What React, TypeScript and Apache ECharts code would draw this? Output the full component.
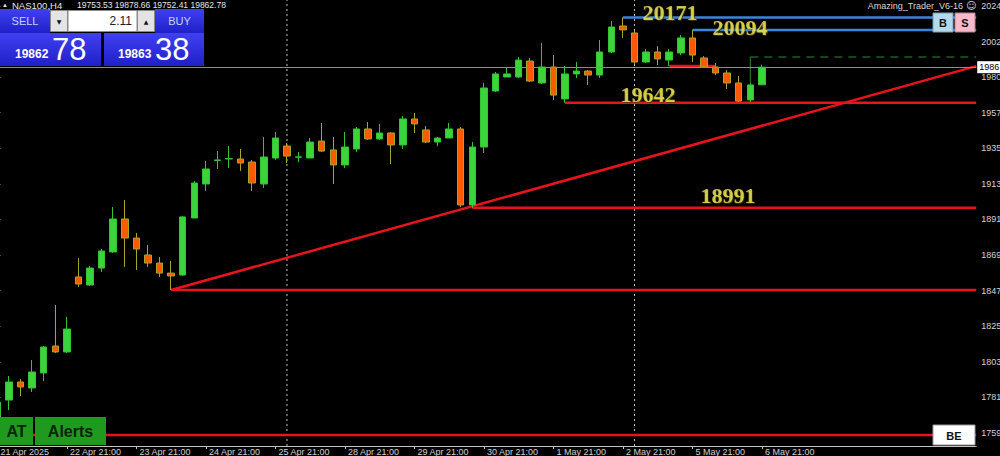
import React, { useEffect, useRef } from "react";
import * as echarts from "echarts";

// ---------- data ----------
const symbolName = "NAS100,H4";
const indicatorName = "Amazing_Trader_V6-16";
const firstLabel = "21 Apr 2025";
const dayLabels = ["21 Apr", "22 Apr", "23 Apr", "24 Apr", "25 Apr", "28 Apr", "29 Apr", "30 Apr", "1 May", "2 May", "5 May", "6 May"];
const barHours = ["01:00", "05:00", "09:00", "13:00", "17:00", "21:00"];
const weekStartDays = ["28 Apr", "5 May"];
const futureSlots = 18;

const opens = [17695, 17800, 17912, 17875, 17968, 18135, 18098, 18563, 18513, 18618, 18718, 18922, 18804, 18699, 18649, 18587, 18575, 18928, 19139, 19285, 19294, 19294, 19275, 19139, 19300, 19374, 19305, 19300, 19405, 19350, 19257, 19356, 19480, 19418, 19455, 19381, 19542, 19474, 19399, 19424, 19480, 19009, 19368, 19715, 19802, 19802, 19901, 19765, 19864, 19666, 19821, 19839, 19814, 19957, 20118, 20075, 19895, 19957, 19907, 19951, 20044, 19920, 19864, 19827, 19765, 19660, 19753.53];
const closes = [17788, 17912, 17881, 17974, 18129, 18098, 18240, 18519, 18618, 18724, 18922, 18804, 18736, 18649, 18587, 18569, 18935, 19145, 19232, 19288, 19296, 19269, 19145, 19306, 19424, 19312, 19307, 19399, 19343, 19257, 19368, 19480, 19418, 19455, 19381, 19542, 19511, 19399, 19424, 19480, 19009, 19368, 19734, 19821, 19821, 19907, 19777, 19864, 19690, 19821, 19839, 19814, 19957, 20112, 20094, 19895, 19957, 19914, 19957, 20044, 19938, 19864, 19827, 19765, 19653, 19753, 19862.78];
const lows = [17676, 17738, 17825, 17850, 17918, 18092, 18092, 18501, 18507, 18594, 18712, 18625, 18606, 18625, 18563, 18482, 18569, 18928, 19096, 19232, 19238, 19220, 19096, 19114, 19288, 19269, 19275, 19300, 19338, 19139, 19238, 19338, 19412, 19412, 19263, 19356, 19455, 19393, 19374, 19424, 18996, 18991, 19331, 19709, 19802, 19796, 19771, 19759, 19659, 19642, 19796, 19752, 19796, 19951, 20044, 19883, 19889, 19876, 19870, 19938, 19895, 19858, 19814, 19728, 19647, 19647, 19752.41];
const highs = [17810, 17949, 17931, 18048, 18135, 18389, 18315, 18680, 18631, 18736, 18996, 19040, 18835, 18761, 18687, 18662, 18941, 19158, 19282, 19343, 19375, 19356, 19288, 19430, 19461, 19393, 19337, 19424, 19517, 19430, 19461, 19492, 19523, 19511, 19461, 19560, 19579, 19498, 19430, 19517, 19492, 19399, 19765, 19833, 19858, 19926, 19920, 20013, 19938, 19870, 19895, 19845, 20031, 20149, 20171, 20087, 19976, 19994, 19976, 20062, 20094, 19932, 19889, 19845, 19808, 19765, 19878.66];

// price-axis ticks and the (edge-clipped) labels the reference shows for them
const yTicks = [17596, 17816.5, 18037, 18257.5, 18478, 18698.5, 18919, 19139.5, 19360, 19580.5, 19801, 20021.5, 20242];
const yTickLabels = ["1759", "1781", "1803", "1825", "1847", "1869", "1891", "1913", "1935", "1957", "1980", "2002", "2024"];
const priceTagLabel = "1986";
const yMin = 17515.3;
const yMax = 20279.2;

// support levels (red): value, starting bar
const supportValues = [18482, 18991, 19642];
const supportStartBars = [15, 41, 49];
// resistance levels (blue)
const resistanceValues = [20171, 20094];
const resistanceStartBars = [54, 60];
// short red level
const shortLevelValue = 19870;
const shortLevelBars = [58, 62];
// break-even line
const breakEvenValue = 17583;
// trend line anchors [bar, price]
const trendAnchorBars = [15, 41];
const trendAnchorPrices = [18482, 19001];
// previous high dashed (green)
const prevHighValue = 19926;
const prevHighBar = 65;
const prevHighFrom = 19765;

const bid = 19862.78;
const ask = 19863.38;
const lotSize = 2.11;

// ---------- component ----------
export default function App() {
  const ref = useRef<HTMLDivElement>(null);

  useEffect(() => {
    document.body.style.margin = "0";
    document.body.style.background = "#000";
    const el = ref.current!;
    const chart = echarts.init(el, null, { renderer: "svg" });

    const N = opens.length;
    const cats: string[] = [`${dayLabels[0]} 21:00`];
    for (let d = 1; d < dayLabels.length; d++) {
      for (const h of barHours) cats.push(`${dayLabels[d]} ${h}`);
    }
    for (let k = 1; k <= futureSlots; k++) cats.push(`+${k}`);
    const total = cats.length;
    const rightEdge = total - 0.5;

    const separators = weekStartDays.map((d) => cats.indexOf(`${d} 01:00`));

    const font = '"Liberation Sans", Arial, sans-serif';
    const serif = '"Liberation Serif", "Times New Roman", serif';
    const red = "#e8141c";
    const blue = "#3a86dc";
    const yellow = "#f3eb52";

    const seg = (pts: number[][], color: string, width: number, type: any = "solid", z = 3) => ({
      type: "line",
      xAxisIndex: 1,
      yAxisIndex: 0,
      data: pts,
      showSymbol: false,
      symbol: "none",
      silent: true,
      z,
      lineStyle: { color, width, type },
      emphasis: { disabled: true },
    });

    const slope = (trendAnchorPrices[1] - trendAnchorPrices[0]) / (trendAnchorBars[1] - trendAnchorBars[0]);
    const trendEnd = trendAnchorPrices[0] + slope * (rightEdge - trendAnchorBars[0]);

    const lineSeries: any[] = [];
    separators.forEach((s) =>
      lineSeries.push(seg([[s, yMin], [s, yMax]], "#bdbdbd", 1, [2, 3], 1))
    );
    supportValues.forEach((v, i) =>
      lineSeries.push(seg([[supportStartBars[i], v], [rightEdge, v]], red, 2.5))
    );
    lineSeries.push(seg([[shortLevelBars[0], shortLevelValue], [shortLevelBars[1], shortLevelValue]], red, 2.5));
    lineSeries.push(seg([[-0.5, breakEvenValue], [rightEdge, breakEvenValue]], red, 2.5));
    lineSeries.push(seg([[trendAnchorBars[0], trendAnchorPrices[0]], [rightEdge, trendEnd]], red, 2.5));
    resistanceValues.forEach((v, i) =>
      lineSeries.push(seg([[resistanceStartBars[i], v], [rightEdge, v]], blue, 2.5))
    );
    lineSeries.push(seg([[prevHighBar, prevHighFrom], [prevHighBar, prevHighValue]], "#2f8a2f", 1));
    lineSeries.push(seg([[prevHighBar, prevHighValue], [rightEdge, prevHighValue]], "#2f8a2f", 1, [8, 6]));

    // level labels: anchor bar, level value, pixel dy
    const labelItems = [
      { bar: 53.75, value: supportValues[2], dy: -8 },
      { bar: 60.66, value: supportValues[1], dy: -12 },
      { bar: 55.65, value: resistanceValues[0], dy: -5 },
      { bar: 61.7, value: resistanceValues[1], dy: -2 },
    ];

    const labelSeries = {
      type: "scatter",
      xAxisIndex: 1,
      yAxisIndex: 0,
      symbolSize: 1,
      silent: true,
      z: 6,
      itemStyle: { color: "rgba(0,0,0,0)" },
      label: {
        show: true,
        position: "right",
        distance: 0,
        formatter: "{b}",
        color: yellow,
        fontFamily: serif,
        fontWeight: "bold",
        fontSize: 22,
        lineHeight: 18,
        textShadowColor: "rgba(60,55,0,0.9)",
        textShadowBlur: 1,
        textShadowOffsetX: 1,
        textShadowOffsetY: 1,
      },
      emphasis: { disabled: true },
      data: labelItems.map((l) => ({
        value: [l.bar, l.value],
        name: String(l.value),
        label: { offset: [0, l.dy] },
      })),
    };

    const showIdx = (i: number) => i % 6 === 0 && i < N;

    const grad = () =>
      new echarts.graphic.LinearGradient(0, 0, 0, 1, [
        { offset: 0, color: "#4040f2" },
        { offset: 1, color: "#2020c8" },
      ]);

    const bidStr = bid.toFixed(2).split(".");
    const askStr = ask.toFixed(2).split(".");
    const lastIdx = N - 1;
    const headerValues = [opens[lastIdx], highs[lastIdx], lows[lastIdx], closes[lastIdx]].map((v) => v.toFixed(2)).join(" ");

    const txt = (x: number, y: number, text: string, size: number, fill: string, opts: any = {}) => ({
      type: "text",
      x,
      y,
      z: 101,
      silent: true,
      style: {
        text,
        fill,
        font: `${opts.weight || "normal"} ${size}px ${opts.family || font}`,
        textAlign: opts.align || "left",
        textVerticalAlign: "middle",
      },
    });
    const box = (x: number, y: number, w: number, h: number, fill: any, stroke = "none") => ({
      type: "rect",
      z: 100,
      silent: true,
      shape: { x, y, width: w, height: h },
      style: { fill, stroke, lineWidth: 1 },
    });

    const graphics: any[] = [
      // header
      txt(2, 5, "▲", 6, "#e0e0e0"),
      txt(12, 5, symbolName, 9.5, "#e6e6e6"),
      txt(77, 5, headerValues, 8.5, "#e6e6e6"),
      txt(963, 5.5, indicatorName, 9, "#d8d8d8", { align: "right" }),
      txt(966, 5.5, "☺", 10, "#d8d8d8", { family: '"DejaVu Sans", sans-serif' }),
      // one-click panel
      box(0, 9, 50, 24, grad()),
      txt(25, 21, "SELL", 11, "#c8d2f4", { align: "center" }),
      box(50.5, 10.5, 17, 21, "#e4e4e4", "#8a8a8a"),
      txt(59, 21, "▼", 6, "#111", { align: "center", family: '"DejaVu Sans", sans-serif' }),
      box(68, 10.5, 69, 21, "#ffffff", "#8a8a8a"),
      txt(132, 21, lotSize.toFixed(2), 12, "#202020", { align: "right" }),
      box(137.5, 10.5, 17, 21, "#e4e4e4", "#8a8a8a"),
      txt(146, 21, "▲", 6, "#111", { align: "center", family: '"DejaVu Sans", sans-serif' }),
      box(155, 9, 49, 24, grad()),
      txt(179.5, 21, "BUY", 11, "#c8d2f4", { align: "center" }),
      box(0, 33, 101, 33, grad()),
      box(104, 33, 100, 33, grad()),
      txt(15, 54, bidStr[0], 12, "#ffffff", { weight: "bold" }),
      txt(52, 49, bidStr[1], 31, "#ffffff"),
      txt(118, 54, askStr[0], 12, "#ffffff", { weight: "bold" }),
      txt(155, 49, askStr[1], 31, "#ffffff"),
      // B / S buttons
      box(933, 13, 20, 19, "#b3d9ee", "#7f9fb0"),
      txt(943, 22.5, "B", 11, "#111", { align: "center", weight: "bold" }),
      box(955, 13, 20, 19, "#f9b9c8", "#b08890"),
      txt(965, 22.5, "S", 11, "#111", { align: "center", weight: "bold" }),
      // AT / Alerts
      box(0, 417, 33, 28, "#1f9a1f"),
      txt(16.5, 431.5, "AT", 16, "#0b220b", { align: "center", weight: "bold" }),
      box(35, 417, 71, 28, "#1f9a1f"),
      txt(70.5, 431.5, "Alerts", 16, "#0b220b", { align: "center", weight: "bold" }),
      // BE
      box(933, 425, 42, 20, "#ffffff", "#9a9a9a"),
      txt(954, 435.5, "BE", 11, "#111", { align: "center", weight: "bold" }),
    ];

    const option: any = {
      animation: false,
      backgroundColor: "#000000",
      grid: {
        left: -8.4,
        top: 0,
        width: 984.6,
        height: 446,
        containLabel: false,
        outerBoundsMode: "none",
      },
      xAxis: [
        {
          type: "category",
          data: cats,
          boundaryGap: true,
          axisLine: { show: true, lineStyle: { color: "#c4c4c4", width: 1 } },
          axisTick: {
            show: true,
            alignWithLabel: true,
            interval: (i: number) => showIdx(i),
            length: 3,
            lineStyle: { color: "#c4c4c4" },
          },
          axisLabel: {
            interval: (i: number) => showIdx(i),
            formatter: (v: string, i: number) => (i === 0 ? firstLabel : v),
            color: "#d2d2d2",
            fontSize: 9,
            lineHeight: 9,
            fontFamily: font,
            align: "left",
            margin: 1,
            padding: [0, 0, 0, 3],
          },
          splitLine: { show: false },
        },
        { type: "value", min: -0.5, max: rightEdge, show: false },
      ],
      yAxis: {
        type: "value",
        position: "right",
        min: yMin,
        max: yMax,
        axisLine: { show: true, lineStyle: { color: "#c4c4c4", width: 1 } },
        axisTick: { show: true, length: 3, customValues: yTicks, lineStyle: { color: "#c4c4c4" } },
        axisLabel: {
          customValues: yTicks,
          formatter: (v: number) => {
            const k = yTicks.findIndex((t) => Math.abs(t - v) < 1e-6);
            return k >= 0 ? yTickLabels[k] : "";
          },
          color: "#d2d2d2",
          fontSize: 9,
          fontFamily: font,
          margin: 5,
        },
        splitLine: { show: false },
      },
      series: [
        ...lineSeries,
        {
          type: "candlestick",
          xAxisIndex: 0,
          yAxisIndex: 0,
          barWidth: 7,
          z: 4,
          data: opens.map((o, i) => [o, closes[i], lows[i], highs[i]]),
          itemStyle: {
            color: "#3bd43b",
            color0: "#ff5a00",
            borderColor: "#33c433",
            borderColor0: "#a6a42a",
            borderWidth: 1,
          },
          emphasis: { disabled: true },
          markLine: {
            silent: true,
            symbol: ["none", "none"],
            animation: false,
            lineStyle: { color: "#8c8c8c", width: 1, type: "solid" },
            label: {
              show: true,
              position: "end",
              distance: 1,
              formatter: priceTagLabel,
              backgroundColor: "#ffffff",
              color: "#000000",
              fontSize: 9,
              fontFamily: font,
              padding: [2, 2, 1, 2],
            },
            data: [{ yAxis: bid }],
          },
        },
        labelSeries,
      ],
      graphic: { elements: graphics },
    };

    chart.setOption(option);
    return () => chart.dispose();
  }, []);

  return (
    <div
      ref={ref}
      style={{ position: "fixed", left: 0, top: 0, width: 1000, height: 456, background: "#000" }}
    />
  );
}
